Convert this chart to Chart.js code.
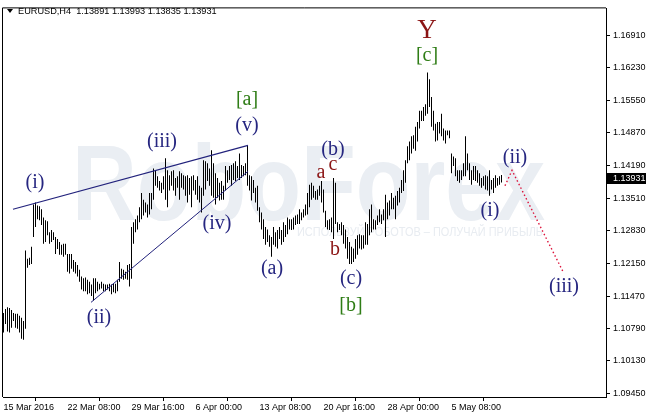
<!DOCTYPE html>
<html>
<head>
<meta charset="utf-8">
<script src="https://cdn.jsdelivr.net/npm/chart.js@4.4.1/dist/chart.umd.min.js"></script>
<style>
  html, body { margin: 0; padding: 0; background: #fff; }
  #wrap { width: 646px; height: 414px; }
</style>
</head>
<body>
<div id="wrap"><canvas id="chart" width="646" height="414"></canvas></div>
<script>
// EURUSD H4, one bar per 4 hours (weekends skipped)
const symbol = 'EURUSD,H4';

const highs = [
  1.1112, 1.1120, 1.1124, 1.1122, 1.1118, 1.1112, 1.1110, 1.1110, 1.1106, 1.1102,
  1.1095, 1.1242, 1.1225, 1.1227, 1.1250, 1.1338, 1.1342, 1.1336, 1.1334, 1.1328,
  1.1311, 1.1305, 1.1303, 1.1280, 1.1285, 1.1280, 1.1270, 1.1266, 1.1260, 1.1254,
  1.1256, 1.1256, 1.1235, 1.1235, 1.1235, 1.1222, 1.1218, 1.1212, 1.1202, 1.1188,
  1.1184, 1.1186, 1.1181, 1.1177, 1.1171, 1.1184, 1.1184, 1.1177, 1.1173, 1.1177,
  1.1173, 1.1171, 1.1171, 1.1173, 1.1171, 1.1173, 1.1173, 1.1181, 1.1218, 1.1204,
  1.1202, 1.1198, 1.1212, 1.1214, 1.1291, 1.1301, 1.1307, 1.1315, 1.1332, 1.1362,
  1.1348, 1.1342, 1.1338, 1.1362, 1.1362, 1.1413, 1.1409, 1.1397, 1.1387, 1.1383,
  1.1397, 1.1434, 1.1409, 1.1399, 1.1407, 1.1409, 1.1393, 1.1397, 1.1407, 1.1403,
  1.1399, 1.1397, 1.1399, 1.1393, 1.1397, 1.1399, 1.1389, 1.1397, 1.1377, 1.1373,
  1.1430, 1.1428, 1.1424, 1.1413, 1.1451, 1.1424, 1.1403, 1.1393, 1.1383, 1.1387,
  1.1377, 1.1418, 1.1409, 1.1418, 1.1420, 1.1424, 1.1428, 1.1418, 1.1444, 1.1420,
  1.1418, 1.1424, 1.1461, 1.1399, 1.1397, 1.1389, 1.1373, 1.1377, 1.1332, 1.1321,
  1.1307, 1.1291, 1.1286, 1.1274, 1.1270, 1.1291, 1.1280, 1.1285, 1.1291, 1.1285,
  1.1301, 1.1295, 1.1311, 1.1307, 1.1307, 1.1311, 1.1315, 1.1317, 1.1328, 1.1321,
  1.1328, 1.1338, 1.1362, 1.1379, 1.1383, 1.1377, 1.1366, 1.1369, 1.1377, 1.1387,
  1.1369, 1.1325, 1.1305, 1.1307, 1.1311, 1.1393, 1.1383, 1.1301, 1.1297, 1.1301,
  1.1295, 1.1286, 1.1270, 1.1260, 1.1250, 1.1246, 1.1266, 1.1274, 1.1276, 1.1274,
  1.1274, 1.1301, 1.1297, 1.1328, 1.1338, 1.1307, 1.1305, 1.1315, 1.1328, 1.1317,
  1.1328, 1.1358, 1.1342, 1.1346, 1.1362, 1.1352, 1.1356, 1.1366, 1.1373, 1.1389,
  1.1409, 1.1430, 1.1459, 1.1469, 1.1480, 1.1482, 1.1500, 1.1510, 1.1533, 1.1533,
  1.1541, 1.1547, 1.1613, 1.1599, 1.1562, 1.1533, 1.1506, 1.1510, 1.1510, 1.1527,
  1.1496, 1.1492, 1.1492, 1.1492, 1.1444, 1.1438, 1.1434, 1.1409, 1.1409, 1.1409,
  1.1424, 1.1480, 1.1444, 1.1424, 1.1409, 1.1418, 1.1418, 1.1409, 1.1403, 1.1393,
  1.1397, 1.1399, 1.1397, 1.1409, 1.1389, 1.1393, 1.1399, 1.1393, 1.1397, 1.13993
];

const lows = [
  1.1071, 1.1089, 1.1073, 1.1071, 1.1081, 1.1095, 1.1081, 1.1079, 1.1071, 1.1058,
  1.1056, 1.1079, 1.1206, 1.1212, 1.1214, 1.1270, 1.1291, 1.1307, 1.1305, 1.1295,
  1.1256, 1.1260, 1.1274, 1.1256, 1.1260, 1.1264, 1.1235, 1.1245, 1.1233, 1.1233,
  1.1229, 1.1233, 1.1198, 1.1194, 1.1204, 1.1198, 1.1194, 1.1188, 1.1177, 1.1161,
  1.1157, 1.1157, 1.1151, 1.1153, 1.1147, 1.1138, 1.1153, 1.1157, 1.1161, 1.1163,
  1.1157, 1.1157, 1.1161, 1.1157, 1.1151, 1.1155, 1.1153, 1.1157, 1.1177, 1.1183,
  1.1181, 1.1183, 1.1181, 1.1167, 1.1183, 1.1256, 1.1280, 1.1286, 1.1301, 1.1307,
  1.1315, 1.1321, 1.1311, 1.1317, 1.1328, 1.1348, 1.1377, 1.1373, 1.1367, 1.1362,
  1.1369, 1.1348, 1.1332, 1.1367, 1.1377, 1.1367, 1.1356, 1.1373, 1.1348, 1.1373,
  1.1369, 1.1356, 1.1342, 1.1358, 1.1332, 1.1367, 1.1358, 1.1348, 1.1342, 1.1321,
  1.1356, 1.1369, 1.1387, 1.1377, 1.1356, 1.1352, 1.1338, 1.1352, 1.1346, 1.1348,
  1.1348, 1.1367, 1.1383, 1.1389, 1.1377, 1.1389, 1.1387, 1.1393, 1.1389, 1.1393,
  1.1397, 1.1399, 1.1377, 1.1367, 1.1346, 1.1362, 1.1342, 1.1325, 1.1301, 1.1286,
  1.1266, 1.1254, 1.1260, 1.1250, 1.1229, 1.1254, 1.1250, 1.1246, 1.1266, 1.1254,
  1.1260, 1.1270, 1.1276, 1.1286, 1.1285, 1.1286, 1.1295, 1.1297, 1.1297, 1.1305,
  1.1311, 1.1315, 1.1317, 1.1332, 1.1348, 1.1352, 1.1348, 1.1348, 1.1356, 1.1342,
  1.1321, 1.1291, 1.1286, 1.1285, 1.1280, 1.1266, 1.1297, 1.1280, 1.1285, 1.1274,
  1.1256, 1.1246, 1.1225, 1.1214, 1.1214, 1.1218, 1.1225, 1.1233, 1.1246, 1.1244,
  1.1246, 1.1254, 1.1254, 1.1274, 1.1280, 1.1286, 1.1286, 1.1295, 1.1301, 1.1297,
  1.1305, 1.1270, 1.1307, 1.1315, 1.1328, 1.1328, 1.1307, 1.1336, 1.1342, 1.1362,
  1.1366, 1.1383, 1.1424, 1.1430, 1.1444, 1.1454, 1.1450, 1.1469, 1.1496, 1.1512,
  1.1512, 1.1523, 1.1527, 1.1541, 1.1500, 1.1492, 1.1469, 1.1471, 1.1486, 1.1480,
  1.1471, 1.1465, 1.1482, 1.1476, 1.1403, 1.1418, 1.1397, 1.1387, 1.1383, 1.1389,
  1.1397, 1.1397, 1.1409, 1.1389, 1.1379, 1.1389, 1.1387, 1.1383, 1.1377, 1.1373,
  1.1377, 1.1369, 1.1367, 1.1356, 1.1369, 1.1362, 1.1373, 1.1377, 1.1379, 1.13835
];

const lastOpen = 1.13891;
const lastClose = 1.13931;

const timeLabels = ['15 Mar 2016', '22 Mar 08:00', '29 Mar 16:00', '6 Apr 00:00',
  '13 Apr 08:00', '20 Apr 16:00', '28 Apr 00:00', '5 May 08:00'];
const timeLabelBars = [0, 32, 64, 96, 128, 160, 192, 224];

const priceTicks = [1.16910, 1.16230, 1.15550, 1.14870, 1.14190, 1.13510,
  1.12830, 1.12150, 1.11470, 1.10790, 1.10130, 1.09450];

// wedge lines and the projected path, as [bar, price]
const wedgeUpper = [[4.75, 1.1328], [122.25, 1.1461]];
const wedgeLower = [[43.75, 1.1134], [122.25, 1.1407]];
const projection = [[250.75, 1.1377], [254.25, 1.1409], [279.75, 1.1198]];

// wave marks: text, bar, price (baseline), degree
const waveLabels = [
  ['(i)', 15.75, 1.1373, 'minute'],
  ['(ii)', 47.75, 1.1091, 'minute'],
  ['(iii)', 79.25, 1.1457, 'minute'],
  ['(iv)', 106.75, 1.1286, 'minute'],
  ['(v)', 121.75, 1.1492, 'minute'],
  ['[a]', 121.75, 1.1545, 'minor'],
  ['(a)', 134.25, 1.1194, 'minute'],
  ['a', 158.75, 1.1393, 'minuette'],
  ['(b)', 164.75, 1.1440, 'minute'],
  ['c', 164.75, 1.1409, 'minuette'],
  ['b', 165.75, 1.1233, 'minuette'],
  ['(c)', 173.75, 1.1173, 'minute'],
  ['[b]', 173.75, 1.1116, 'minor'],
  ['Y', 211.75, 1.1685, 'major'],
  ['[c]', 211.75, 1.1636, 'minor'],
  ['(i)', 243.25, 1.1313, 'minute'],
  ['(ii)', 255.75, 1.1424, 'minute'],
  ['(iii)', 280.25, 1.1155, 'minute']
];

const degreeStyle = {
  minute: { color: '#262680', font: '20px "Liberation Serif", "Times New Roman", serif' },
  minor: { color: '#2f7d16', font: '20px "Liberation Serif", "Times New Roman", serif' },
  minuette: { color: '#8b1414', font: '20px "Liberation Serif", "Times New Roman", serif' },
  major: { color: '#8b1414', font: '27px "Liberation Serif", "Times New Roman", serif' }
};

const toPoints = (pts) => pts.map(([x, y]) => ({ x, y }));
const last = highs.length - 1;

Chart.defaults.font.family = '"Liberation Sans", Arial, sans-serif';
Chart.defaults.font.size = 9;
Chart.defaults.color = '#000';

const paper = {
  id: 'paper',
  beforeDraw(chart) {
    const { ctx, width, height } = chart;
    ctx.save();
    ctx.fillStyle = '#fff';
    ctx.fillRect(0, 0, width, height);
    ctx.restore();
  },
  beforeDatasetsDraw(chart) {
    // broker watermark behind the bars
    const { ctx } = chart;
    ctx.save();
    ctx.fillStyle = '#eaeef3';
    ctx.font = 'bold 108px "Liberation Sans", Arial, sans-serif';
    let w = ctx.measureText('RoboForex').width;
    ctx.translate(72, 220);
    ctx.scale(473 / w, 1);
    ctx.fillText('RoboForex', 0, 0);
    ctx.restore();

    ctx.save();
    ctx.fillStyle = '#e8ecf1';
    ctx.font = '12px "Liberation Sans", Arial, sans-serif';
    const sub = 'ИСПОЛЬЗУЙ РОБОТОВ – ПОЛУЧАЙ ПРИБЫЛЬ';
    w = ctx.measureText(sub).width;
    ctx.translate(297, 236);
    ctx.scale(246 / w, 1);
    ctx.fillText(sub, 0, 0);
    ctx.restore();
  },
  afterDatasetsDraw(chart) {
    const { ctx, scales: { x, y } } = chart;
    ctx.save();
    ctx.textAlign = 'center';
    ctx.textBaseline = 'alphabetic';
    waveLabels.forEach(([text, bar, price, degree]) => {
      const st = degreeStyle[degree];
      ctx.font = st.font;
      ctx.fillStyle = st.color;
      ctx.fillText(text, x.getPixelForValue(bar), y.getPixelForValue(price));
    });
    ctx.restore();
  },
  afterDraw(chart) {
    const { ctx, chartArea: a, scales: { y } } = chart;
    ctx.save();
    // frame
    ctx.strokeStyle = '#000';
    ctx.lineWidth = 1;
    ctx.beginPath();
    ctx.moveTo(a.left - 0.5, a.bottom);
    ctx.lineTo(a.left - 0.5, a.top - 0.5);
    ctx.lineTo(a.right, a.top - 0.5);
    ctx.stroke();

    // header
    ctx.fillStyle = '#000';
    ctx.beginPath();
    ctx.moveTo(7, 9);
    ctx.lineTo(13, 9);
    ctx.lineTo(10, 13);
    ctx.closePath();
    ctx.fill();
    ctx.font = '9.2px "Liberation Sans", Arial, sans-serif';
    ctx.textBaseline = 'alphabetic';
    ctx.fillText(symbol + '  ' + [lastOpen, highs[last], lows[last], lastClose]
      .map(v => v.toFixed(5)).join(' '), 18, 14);

    // last price box
    const py = Math.round(y.getPixelForValue(lastClose));
    ctx.fillRect(a.right + 1, py - 5, 40, 11);
    ctx.fillStyle = '#fff';
    ctx.font = '9px "Liberation Sans", Arial, sans-serif';
    ctx.textBaseline = 'middle';
    ctx.fillText(lastClose.toFixed(5), a.right + 7, py + 0.5);
    ctx.restore();
  }
};

new Chart(document.getElementById('chart'), {
  type: 'bar',
  data: {
    datasets: [
      {
        type: 'bar',
        data: highs.map((h, i) => ({ x: i, y: [lows[i], h] })),
        backgroundColor: '#000',
        borderWidth: 0,
        barThickness: 1,
        inflateAmount: 0,
        order: 3
      },
      {
        type: 'line',
        data: toPoints(wedgeUpper),
        borderColor: '#22227c',
        borderWidth: 1.2,
        pointRadius: 0,
        order: 1
      },
      {
        type: 'line',
        data: toPoints(wedgeLower),
        borderColor: '#22227c',
        borderWidth: 1,
        pointRadius: 0,
        order: 1
      },
      {
        type: 'line',
        data: toPoints(projection),
        borderColor: '#dc143c',
        borderWidth: 1.4,
        borderDash: [1.5, 2.5],
        pointRadius: 0,
        order: 1
      }
    ]
  },
  options: {
    responsive: false,
    animation: false,
    devicePixelRatio: 1,
    layout: { padding: { left: 3, top: 3, right: 0, bottom: 0 } },
    plugins: { legend: { display: false }, tooltip: { enabled: false } },
    scales: {
      x: {
        type: 'linear',
        min: -0.25,
        max: 301.25,
        offset: false,
        afterBuildTicks: (s) => { s.ticks = timeLabelBars.map(v => ({ value: v })); },
        afterFit: (s) => { s.height = 17; },
        ticks: {
          callback: (v) => timeLabels[timeLabelBars.indexOf(v)],
          align: 'start',
          maxRotation: 0,
          autoSkip: false,
          padding: 1
        },
        grid: { drawOnChartArea: false, tickLength: 4, color: '#000' },
        border: { color: '#000' }
      },
      y: {
        position: 'right',
        min: 1.093678,
        max: 1.174648,
        afterBuildTicks: (s) => { s.ticks = priceTicks.map(v => ({ value: v })); },
        afterFit: (s) => { s.width = 40; },
        ticks: { callback: (v) => v.toFixed(5), autoSkip: false, padding: 3 },
        grid: { drawOnChartArea: false, tickLength: 4, color: '#000' },
        border: { color: '#000' }
      }
    }
  },
  plugins: [paper]
});
</script>
</body>
</html>
